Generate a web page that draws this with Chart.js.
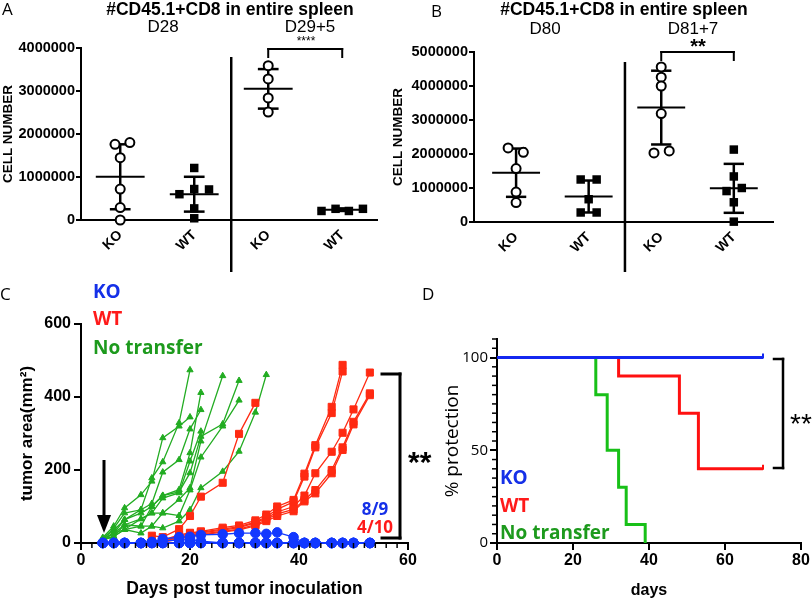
<!DOCTYPE html>
<html>
<head>
<meta charset="utf-8">
<script src="https://cdn.jsdelivr.net/npm/chart.js@4.4.1/dist/chart.umd.min.js"></script>
<style>
  body { margin: 0; background: #fff; }
  #wrap { position: relative; width: 812px; height: 600px; overflow: hidden; }
  canvas { position: absolute; left: 0; top: 0; }
</style>
</head>
<body>
<div id="wrap">
  <canvas id="panelA" width="812" height="600"></canvas>
  <canvas id="panelB" width="812" height="600"></canvas>
  <canvas id="panelC" width="812" height="600"></canvas>
  <canvas id="panelD" width="812" height="600"></canvas>
</div>
<script>
// ---- A: #CD45.1+CD8, D28 / D29+5 ----
const groupLabels = ['KO', 'WT', 'KO', 'WT'];
const aTicks = [0, 1000000, 2000000, 3000000, 4000000];
const aKO28 = [1800000, 1760000, 1450000, 720000, 290000, 0];
const aKO28Jit = [0.13, -0.07, 0, 0, 0, 0];
const aWT28 = [1210000, 720000, 710000, 600000, 270000, 40000];
const aWT28Jit = [0, 0, 0.2, -0.2, 0, 0];
const aKO34 = [3590000, 3280000, 2840000, 2510000];
const aKO34Jit = [0, 0, 0, 0];
const aWT34 = [210000, 260000, 210000, 260000];
const aWT34Jit = [-0.28, -0.09, 0.09, 0.28];
const aMean = [1005000, 600000, 3050000, 240000];
const aSD = [755000, 405000, 460000, 30000];

// ---- B: D80 / D81+7 ----
const bTicks = [0, 1000000, 2000000, 3000000, 4000000, 5000000];
const bKO80 = [2180000, 2050000, 1570000, 880000, 570000];
const bKO80Jit = [-0.11, 0.1, 0, 0, 0];
const bWT80 = [1250000, 1250000, 670000, 280000, 280000];
const bWT80Jit = [-0.11, 0.11, 0, -0.11, 0.11];
const bKO88 = [4560000, 4260000, 4000000, 3190000, 2030000, 2090000];
const bKO88Jit = [0, 0, 0, 0, -0.1, 0.11];
const bWT88 = [2130000, 1340000, 910000, 1000000, 580000, 10000];
const bWT88Jit = [0, 0, -0.1, 0.11, 0, 0];
const bMean = [1450000, 750000, 3365000, 990000];
const bSD = [710000, 470000, 1085000, 720000];

// ---- C: tumor growth (mm2) ----
const cXTicks = [0, 20, 40, 60];
const cYTicks = [0, 200, 400, 600];
const daysKO = [4, 6, 8, 11, 13, 15, 18, 20, 22, 26, 29, 32, 34, 36, 39, 41, 43, 46, 48, 50, 53];
const daysWT = [13, 15, 18, 20, 22, 26, 29, 32, 34, 36, 39, 41, 43, 46, 48, 50, 53];
const daysNT = [4, 6, 8, 11, 13, 15, 18, 20, 22, 26, 29, 32, 34];
const koMice = [
  [0, 0, 0, 0, 2, 11, 16, 17, 22, 24, 27, 27, 25, 29, 16, 0, 0, 0, 0, 0, 0],
  [0, 0, 0, 0, 3, 6, 8, 10, 5, 0, 0, 0, 0, 0, 0, 0, 0, 0, 0, 0, 0],
  [0, 0, 0, 0, 0, 0, 0, 0, 0, 0, 0, 0, 0, 0, 0, 0, 0, 0, 0, 0, 0],
  [0, 0, 0, 0, 0, 0, 0, 0, 0, 0, 0, 0, 0, 0, 0, 0, 0, 0, 0, 0, 0],
  [0, 0, 0, 0, 0, 0, 0, 0, 0, 0, 0, 0, 0, 0, 0, 0, 0, 0, 0, 0, 0]
];
const wtMice = [
  [20, 16, 38, 74, 127, 165, 299, 384],
  [0, 8, 22, 28, 32, 42, 48, 62, 78, 100, 118, 190, 268, 373, 488],
  [0, 5, 18, 26, 30, 38, 45, 57, 72, 92, 113, 182, 262, 356, 470],
  [0, 5, 15, 22, 28, 35, 42, 55, 68, 85, 100, 130, 191, 250, 302, 366, 467],
  [0, 3, 12, 20, 25, 32, 38, 50, 64, 80, 92, 118, 145, 200, 262, 332, 410],
  [0, 3, 10, 18, 22, 30, 36, 47, 60, 74, 87, 114, 136, 191, 255, 325, 405],
  [0, 0, 0, 0, 0, 0, 0, 0, 0, 0, 0, 0, 0, 0, 0, 0, 0]
];
const ntMice = [
  [15, 46, 96, 132, 169, 288, 320, 345],
  [12, 40, 82, 91, 178, 222, 329, 474],
  [12, 35, 64, 91, 108, 194, 228, 312, 365],
  [10, 27, 64, 82, 100, 130, 146, 247, 412],
  [10, 27, 50, 66, 82, 123, 137, 224, 306],
  [8, 18, 50, 46, 100, 130, 140, 192, 292, 326, 445],
  [8, 27, 37, 66, 82, 82, 119, 151, 279, 458],
  [10, 18, 37, 46, 46, 82, 75, 145, 235, 320, 391],
  [8, 18, 37, 27, 46, 41, 60, 91, 151, 196, 251, 358, 461]
];

// ---- D: % protection ----
const dXTicks = [0, 20, 40, 60, 80];
const dYTicks = [0, 50, 100];
const koTimes = [0, 70];
const koSurv = [100, 100];
const wtTimes = [0, 32, 48, 53, 70];
const wtSurv = [100, 90, 70, 40, 40];
const ntTimes = [0, 26, 29, 32, 34, 39];
const ntSurv = [100, 80, 50, 30, 10, 0];

const SANS = "'Liberation Sans', Arial, sans-serif";
const OPEN = "'Open Sans', sans-serif";
const BLUE = '#1238ff', RED = '#ff2a12', GREEN = '#22ac22';

Chart.defaults.color = '#000';
Chart.defaults.animation = false;
Chart.defaults.events = [];
Chart.defaults.plugins.legend.display = false;
Chart.defaults.plugins.tooltip.enabled = false;

function txt(ctx, s, x, y, font, color, align) {
  ctx.font = font;
  ctx.fillStyle = color || '#000';
  ctx.textAlign = align || 'left';
  ctx.textBaseline = 'alphabetic';
  ctx.fillText(s, x, y);
}
function seg(ctx, x1, y1, x2, y2, w) {
  ctx.lineWidth = w;
  ctx.beginPath(); ctx.moveTo(x1, y1); ctx.lineTo(x2, y2); ctx.stroke();
}

// dot plot with mean +/- SD, used by A and B
function dotPlot(id, o) {
  new Chart(document.getElementById(id), {
    type: 'scatter',
    data: {
      datasets: o.groups.map((g, gi) => ({
        data: g.vals.map((v, i) => ({x: gi + 1 + g.jit[i], y: v})),
        pointStyle: g.ko ? 'circle' : 'rect',
        pointRadius: g.ko ? 4.5 : 6,
        pointBorderWidth: g.ko ? 2 : 0,
        pointBorderColor: '#000',
        pointBackgroundColor: g.ko ? '#fff' : '#000',
        clip: false
      }))
    },
    options: {
      responsive: false,
      layout: {padding: o.padding},
      scales: {
        x: {
          type: 'linear', min: o.xmin, max: o.xmax,
          afterBuildTicks: s => { s.ticks = groupLabels.map((l, i) => ({value: i + 1})); },
          afterFit: s => { s.height = o.xh; },
          ticks: {minRotation: 45, maxRotation: 45, padding: 7, font: {family: SANS, size: 14, weight: 'bold'},
                  callback: (v, i) => groupLabels[i]},
          grid: {display: true, drawOnChartArea: false, drawTicks: false},
          border: {color: '#000', width: 2}
        },
        y: {
          min: 0, max: o.yTicks[o.yTicks.length - 1],
          afterBuildTicks: s => { s.ticks = o.yTicks.map(v => ({value: v})); },
          afterFit: s => { s.width = o.yw; },
          ticks: {padding: 1, font: {family: SANS, size: 14.5, weight: 'bold'}, callback: v => String(v)},
          grid: {drawOnChartArea: false, tickLength: 5, color: '#000', lineWidth: 2},
          border: {color: '#000', width: 2},
          title: {display: true, text: 'CELL NUMBER', padding: 0, font: {family: SANS, size: 13.5, weight: 'bold'}}
        }
      }
    },
    plugins: [{
      id: id + 'Bars',
      beforeDatasetsDraw(chart) {
        const {ctx, scales: {x, y}} = chart;
        ctx.save(); ctx.strokeStyle = '#000';
        o.mean.forEach((m, i) => {
          const cx = x.getPixelForValue(i + 1);
          const hw = x.getPixelForValue(i + 1.33) - cx;
          const cw = x.getPixelForValue(i + 1.14) - cx;
          const t = y.getPixelForValue(m + o.sd[i]), b = y.getPixelForValue(m - o.sd[i]), c = y.getPixelForValue(m);
          seg(ctx, cx, t, cx, b, 2.5);
          seg(ctx, cx - cw, t, cx + cw, t, 2.5);
          seg(ctx, cx - cw, b, cx + cw, b, 2.5);
          seg(ctx, cx - hw, c, cx + hw, c, 2);
        });
        ctx.restore();
      },
      afterDraw(chart) { o.decor(chart); }
    }]
  });
}

dotPlot('panelA', {
  groups: [
    {vals: aKO28, jit: aKO28Jit, ko: true}, {vals: aWT28, jit: aWT28Jit, ko: false},
    {vals: aKO34, jit: aKO34Jit, ko: true}, {vals: aWT34, jit: aWT34Jit, ko: false}
  ],
  mean: aMean, sd: aSD, yTicks: aTicks,
  xmin: 0.47, xmax: 4.47, yw: 81, xh: 60,
  padding: {left: 0, top: 48, right: 435, bottom: 320},
  decor(chart) {
    const {ctx, scales: {x}} = chart;
    ctx.save(); ctx.strokeStyle = '#000';
    txt(ctx, 'A', 2, 15, '17px ' + OPEN);
    txt(ctx, '#CD45.1+CD8 in entire spleen', 230, 15, 'bold 17.5px ' + SANS, '#000', 'center');
    txt(ctx, 'D28', 163, 32, '17px ' + SANS, '#000', 'center');
    txt(ctx, 'D29+5', 310, 32, '17px ' + SANS, '#000', 'center');
    txt(ctx, '****', 306, 45, '12px ' + SANS, '#000', 'center');
    const x3 = x.getPixelForValue(3), x4 = x.getPixelForValue(4);
    ctx.lineCap = 'square';
    seg(ctx, x3, 49, x4, 49, 2);
    seg(ctx, x3, 49, x3, 57, 2);
    seg(ctx, x4, 49, x4, 57, 2);
    ctx.lineCap = 'butt';
    const xd = x.getPixelForValue(2.5);
    seg(ctx, xd, 57, xd, 272, 2.5);
    ctx.restore();
  }
});

dotPlot('panelB', {
  groups: [
    {vals: bKO80, jit: bKO80Jit, ko: true}, {vals: bWT80, jit: bWT80Jit, ko: false},
    {vals: bKO88, jit: bKO88Jit, ko: true}, {vals: bWT88, jit: bWT88Jit, ko: false}
  ],
  mean: bMean, sd: bSD, yTicks: bTicks,
  xmin: 0.42, xmax: 4.54, yw: 84, xh: 58,
  padding: {left: 390, top: 52, right: 39, bottom: 320},
  decor(chart) {
    const {ctx, scales: {x}} = chart;
    ctx.save(); ctx.strokeStyle = '#000';
    txt(ctx, 'B', 431, 17, '17px ' + OPEN);
    txt(ctx, '#CD45.1+CD8 in entire spleen', 624, 15, 'bold 17.5px ' + SANS, '#000', 'center');
    txt(ctx, 'D80', 545, 34, '17px ' + SANS, '#000', 'center');
    txt(ctx, 'D81+7', 693, 34, '17px ' + SANS, '#000', 'center');
    txt(ctx, '**', 698, 53, 'bold 20px ' + SANS, '#000', 'center');
    const x3 = x.getPixelForValue(3), x4 = x.getPixelForValue(4);
    ctx.lineCap = 'square';
    seg(ctx, x3, 52, x4, 52, 2);
    seg(ctx, x3, 52, x3, 60, 2);
    seg(ctx, x4, 52, x4, 60, 2);
    ctx.lineCap = 'butt';
    const xd = x.getPixelForValue(2.5);
    seg(ctx, xd, 62, xd, 272, 2.5);
    ctx.restore();
  }
});

// ---- C ----
function miceSets(days, mice, color, style, r) {
  return mice.map(vals => ({
    data: vals.map((v, i) => ({x: days[i], y: v})),
    showLine: true, borderColor: color, borderWidth: 1.3,
    pointStyle: style, pointRadius: r, pointBorderWidth: 1,
    pointBorderColor: color, pointBackgroundColor: color, clip: false
  }));
}

new Chart(document.getElementById('panelC'), {
  type: 'scatter',
  data: {
    datasets: [
      ...miceSets(daysKO, koMice, BLUE, 'circle', 4.8),
      ...miceSets(daysWT, wtMice, RED, 'rect', 5),
      ...miceSets(daysNT, ntMice, GREEN, 'triangle', 3.6)
    ]
  },
  options: {
    responsive: false,
    layout: {padding: {left: 0, top: 324, right: 404, bottom: 0}},
    scales: {
      x: {
        type: 'linear', min: 0, max: 60,
        afterBuildTicks: s => { s.ticks = cXTicks.map(v => ({value: v})); },
        afterFit: s => { s.height = 57; },
        ticks: {padding: 1, font: {family: SANS, size: 16, weight: 'bold'}},
        grid: {drawOnChartArea: false, tickLength: 7, color: '#000', lineWidth: 2},
        border: {color: '#000', width: 2},
        title: {display: true, text: 'Days post tumor inoculation', padding: 0, font: {family: SANS, size: 17.5, weight: 'bold'}}
      },
      y: {
        min: 0, max: 600,
        afterBuildTicks: s => { s.ticks = cYTicks.map(v => ({value: v})); },
        afterFit: s => { s.width = 81; },
        ticks: {padding: 3, font: {family: SANS, size: 16, weight: 'bold'}},
        grid: {drawOnChartArea: false, tickLength: 7, color: '#000', lineWidth: 2},
        border: {color: '#000', width: 2},
        title: {display: true, text: 'tumor area(mm²)', padding: {top: 17, bottom: 0}, font: {family: SANS, size: 17, weight: 'bold'}}
      }
    }
  },
  plugins: [{
    id: 'panelCExtras',
    afterDraw(chart) {
      const {ctx, scales: {x, y}} = chart;
      ctx.save(); ctx.strokeStyle = '#000'; ctx.fillStyle = '#000';
      // minor ticks every 2 days
      for (let d = 2; d < 60; d += 2) {
        if (d % 20 === 0) continue;
        const px = x.getPixelForValue(d);
        seg(ctx, px, y.bottom, px, y.bottom + 5, 1.5);
      }
      txt(ctx, 'C', 0, 300, '17px ' + OPEN);
      txt(ctx, 'KO', 93, 298, 'bold 19px ' + OPEN, '#1530e8');
      txt(ctx, 'WT', 93, 325, 'bold 19px ' + OPEN, '#ff1a1a');
      txt(ctx, 'No transfer', 93, 354, 'bold 19px ' + OPEN, '#1d9a1d');
      // injection arrow
      ctx.fillStyle = '#000';
      seg(ctx, 104, 460, 104, 518, 3);
      ctx.beginPath(); ctx.moveTo(97, 515); ctx.lineTo(111, 515); ctx.lineTo(104, 533); ctx.closePath(); ctx.fill();
      // significance bracket
      ctx.lineCap = 'square';
      seg(ctx, 400, 374, 400, 538, 3);
      seg(ctx, 382, 374, 400, 374, 3);
      seg(ctx, 382, 538, 400, 538, 3);
      txt(ctx, '**', 408, 472, 'bold 30px ' + SANS);
      txt(ctx, '8/9', 375, 515, 'bold 17px ' + OPEN, '#1530e8', 'center');
      txt(ctx, '4/10', 375, 533, 'bold 17px ' + OPEN, '#ff1a1a', 'center');
      ctx.restore();
    }
  }]
});

// ---- D ----
function survSet(times, surv, color) {
  return {
    data: times.map((t, i) => ({x: t, y: surv[i]})),
    showLine: true, stepped: true, borderColor: color, borderWidth: 3,
    pointRadius: 0, clip: false
  };
}

new Chart(document.getElementById('panelD'), {
  type: 'scatter',
  data: {
    datasets: [
      survSet(koTimes, koSurv, '#1428f0'),
      survSet(wtTimes, wtSurv, '#ff1010'),
      survSet(ntTimes, ntSurv, '#18c018')
    ]
  },
  options: {
    responsive: false,
    layout: {padding: {left: 440, top: 339, right: 11, bottom: 0}},
    scales: {
      x: {
        type: 'linear', min: 0, max: 80,
        afterBuildTicks: s => { s.ticks = dXTicks.map(v => ({value: v})); },
        afterFit: s => { s.height = 57; },
        ticks: {padding: 1, font: {family: SANS, size: 16, weight: 'bold'}},
        grid: {drawOnChartArea: false, tickLength: 7, color: '#000', lineWidth: 2},
        border: {color: '#000', width: 2},
        title: {display: true, text: 'days', padding: 0, font: {family: SANS, size: 16, weight: 'bold'}}
      },
      y: {
        min: 0, max: 110,
        afterBuildTicks: s => { s.ticks = dYTicks.map(v => ({value: v})); },
        afterFit: s => { s.width = 57; },
        ticks: {padding: 2, font: {family: OPEN, size: 15}},
        grid: {drawOnChartArea: false, tickLength: 7, color: '#000', lineWidth: 2},
        border: {color: '#000', width: 2},
        title: {display: true, text: '% protection', padding: {top: 1, bottom: 0}, font: {family: OPEN, size: 19}}
      }
    }
  },
  plugins: [{
    id: 'panelDExtras',
    afterDraw(chart) {
      const {ctx, scales: {x, y}} = chart;
      ctx.save(); ctx.strokeStyle = '#000';
      for (let v = 5; v <= 110; v += 5) {
        if (v % 50 === 0) continue;
        const py = y.getPixelForValue(v);
        seg(ctx, x.left - 5, py, x.left, py, 1.5);
      }
      // censor ticks at the end of KO and WT curves
      [[koTimes, koSurv, '#1428f0'], [wtTimes, wtSurv, '#ff1010']].forEach(([t, s, c]) => {
        const px = x.getPixelForValue(t[t.length - 1]), py = y.getPixelForValue(s[s.length - 1]);
        ctx.strokeStyle = c; seg(ctx, px, py + 1, px, py - 4, 2);
      });
      ctx.strokeStyle = '#000';
      txt(ctx, 'D', 422, 300, '17px ' + OPEN);
      txt(ctx, 'KO', 500, 484, 'bold 19px ' + OPEN, '#1530e8');
      txt(ctx, 'WT', 500, 512, 'bold 19px ' + OPEN, '#ff1a1a');
      txt(ctx, 'No transfer', 500, 539, 'bold 19px ' + OPEN, '#1d9a1d');
      ctx.lineCap = 'square';
      seg(ctx, 783, 359, 783, 468, 2.5);
      seg(ctx, 774, 359, 783, 359, 2.5);
      seg(ctx, 774, 468, 783, 468, 2.5);
      txt(ctx, '**', 790, 433, '28px ' + SANS);
      ctx.restore();
    }
  }]
});
</script>
</body>
</html>
